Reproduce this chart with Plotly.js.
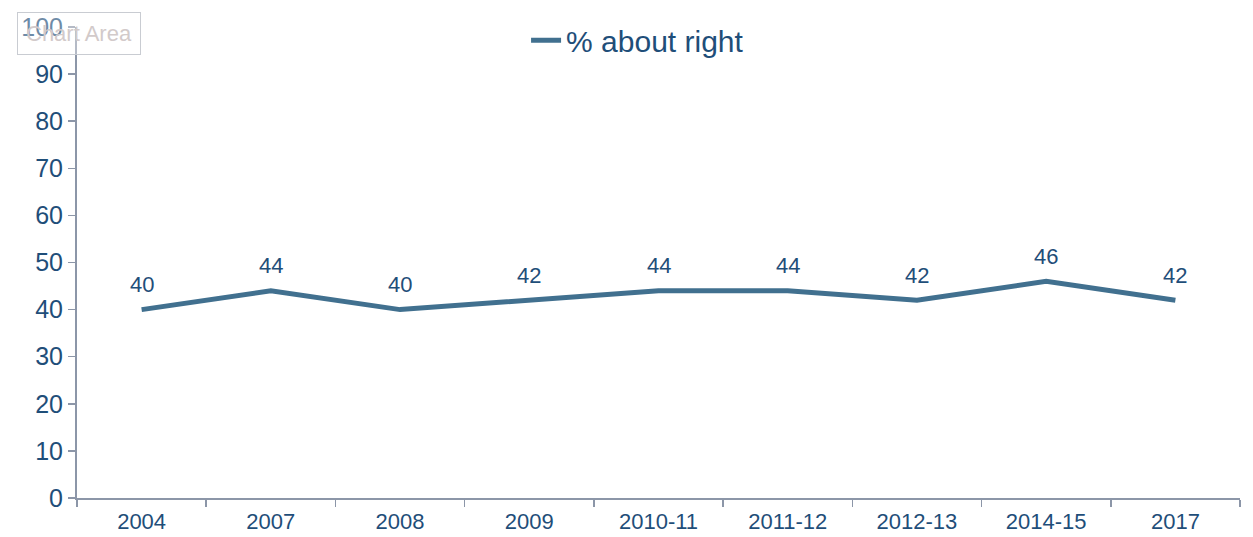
<!DOCTYPE html>
<html>
<head>
<meta charset="utf-8">
<script src="https://cdn.plot.ly/plotly-3.0.1.min.js"></script>
<style>html,body{margin:0;padding:0;background:#fff;}#chart{width:1253px;height:537px;}</style>
</head>
<body>
<div id="chart"></div>
<script>
var categories = ["2004", "2007", "2008", "2009", "2010-11", "2011-12", "2012-13", "2014-15", "2017"];
var aboutRight = [40, 44, 40, 42, 44, 44, 42, 46, 42];
var seriesName = "% about right";
var yTicks = [0, 10, 20, 30, 40, 50, 60, 70, 80, 90, 100];

var lineColor = "#41708F";
var textColor = "#1F4E79";
var axisColor = "#8C96A8";
var fontFam = "Liberation Sans, Arial, sans-serif";

var trace = {
  x: categories,
  y: aboutRight,
  name: seriesName,
  type: "scatter",
  mode: "lines",
  line: {color: lineColor, width: 5},
  cliponaxis: false,
  hoverinfo: "x+y"
};

var labelAnnotations = categories.map(function (c, i) {
  return {
    x: i, y: aboutRight[i], xref: "x", yref: "y",
    text: String(aboutRight[i]),
    showarrow: false,
    yshift: 25,
    yanchor: "middle",
    font: {family: fontFam, size: 22, color: textColor}
  };
});

var layout = {
  width: 1253,
  height: 537,
  margin: {l: 77, r: 13, t: 27, b: 39},
  paper_bgcolor: "#fff",
  plot_bgcolor: "#fff",
  font: {family: fontFam, color: textColor},
  showlegend: true,
  legend: {
    orientation: "h",
    x: 0.482, xanchor: "center",
    y: 0.972, yanchor: "middle",
    font: {size: 30, color: textColor},
    bgcolor: "rgba(0,0,0,0)"
  },
  xaxis: {
    type: "category",
    range: [-0.5, categories.length - 0.5],
    autorange: false,
    showgrid: false,
    zeroline: false,
    showline: true,
    linecolor: axisColor,
    linewidth: 2,
    ticks: "outside",
    tickson: "boundaries",
    ticklen: 7,
    tickcolor: axisColor,
    tickwidth: 1.5,
    tickangle: 0,
    ticklabelstandoff: 3,
    tickfont: {size: 22, color: textColor},
    automargin: false,
    fixedrange: true
  },
  yaxis: {
    range: [0, 100],
    autorange: false,
    tickvals: yTicks,
    showgrid: false,
    zeroline: false,
    showline: true,
    linecolor: axisColor,
    linewidth: 2,
    ticks: "outside",
    ticklen: 7,
    tickcolor: axisColor,
    tickwidth: 1.5,
    tickfont: {size: 25, color: textColor},
    automargin: false,
    fixedrange: true
  },
  annotations: [{
    xref: "paper", yref: "paper",
    x: -0.052, y: 0.987, xanchor: "left", yanchor: "middle",
    text: "Chart Area",
    showarrow: false,
    font: {size: 22, color: "#D2CACA"},
    bgcolor: "rgba(255,255,255,0.35)",
    bordercolor: "#C9CCD2",
    borderwidth: 1,
    borderpad: 8
  }].concat(labelAnnotations)
};

Plotly.newPlot("chart", [trace], layout, {displayModeBar: false, staticPlot: true});
</script>
</body>
</html>
